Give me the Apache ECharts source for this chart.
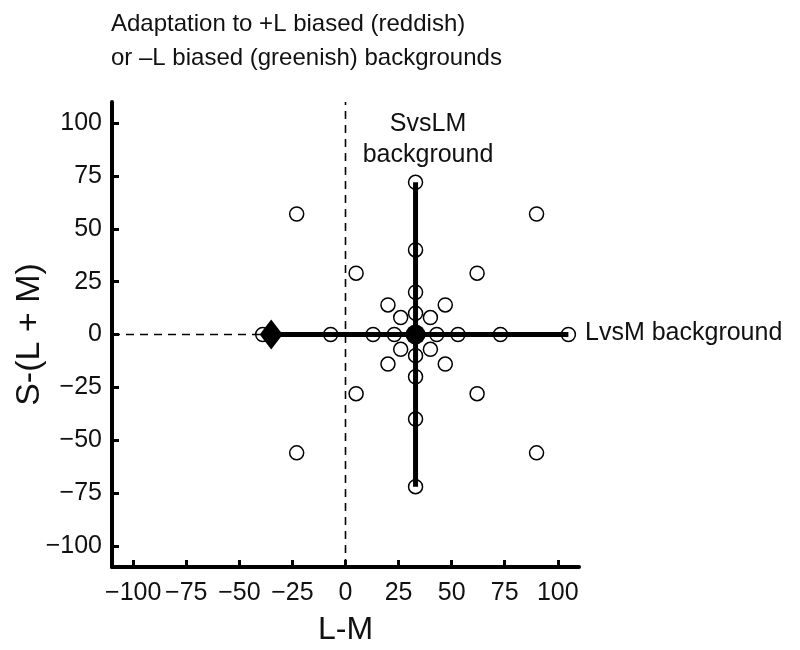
<!DOCTYPE html>
<html>
<head>
<meta charset="utf-8">
<script src="https://cdn.jsdelivr.net/npm/echarts@6/dist/echarts.min.js"></script>
<style>html,body{margin:0;padding:0;background:#fff}#c{width:800px;height:650px}</style>
</head>
<body>
<div id="c"></div>
<script>
// ---- data ----
var xTicks = [-100, -75, -50, -25, 0, 25, 50, 75, 100];
var yTicks = [-100, -75, -50, -25, 0, 25, 50, 75, 100];
var circleX = [33, 33, 33, 33, 33, 33, 33, 33, 33,
               -39, -7, 13, 23, 43, 53, 73, 105,
               26, 40, 26, 40, 20, 47, 20, 47, 5, 62, 5, 62, -23, 90, -23, 90];
var circleY = [0, 10, 20, 40, 72, -10, -20, -40, -72,
               0, 0, 0, 0, 0, 0, 0, 0,
               8, 8, -7, -7, 14, 14, -14, -14, 29, 29, -28, -28, 57, 57, -56, -56];
var svsLMx = [33, 33];
var svsLMy = [-72, 72];
var lvsMx = [-39, 105];
var lvsMy = [0, 0];
var dashVx = [0, 0];
var dashVy = [-110, 110];
var dashHx = [-110, -39];
var dashHy = [0, 0];
var diamondPt = [-35, 0];
var centerPt = [33, 0];

function pairs(xs, ys){ return xs.map(function(x,i){ return [x, ys[i]]; }); }
function fmt(v){ return String(v).replace('-', '\u2212'); }

var FONT = 'Liberation Sans, Arial, Helvetica, sans-serif';
var chart = echarts.init(document.getElementById('c'));
chart.setOption({
  animation: false,
  backgroundColor: '#fff',
  title: {
    text: 'Adaptation to +L biased (reddish)\nor \u2013L biased (greenish) backgrounds',
    left: 106, top: 2,
    textStyle: {fontFamily: FONT, fontSize: 24, fontWeight: 'normal', color: '#111', lineHeight: 34}
  },
  grid: {left: 112, right: 221, top: 102, bottom: 83, containLabel: false, outerBoundsMode: 'none'},
  xAxis: {
    type: 'value', min: -110, max: 110,
    name: 'L-M', nameLocation: 'middle', nameGap: 47, nameMoveOverlap: false,
    nameTextStyle: {fontFamily: FONT, fontSize: 32, color: '#111'},
    axisLine: {onZero: false, lineStyle: {color: '#000', width: 4}},
    axisTick: {inside: true, length: 7, lineStyle: {color: '#000', width: 3}, customValues: xTicks},
    axisLabel: {margin: 14, fontFamily: FONT, fontSize: 25, color: '#111', customValues: xTicks, formatter: fmt},
    splitLine: {show: false}
  },
  yAxis: {
    type: 'value', min: -110, max: 110,
    name: 'S-(L + M)', nameLocation: 'middle', nameGap: 65, nameRotate: 90, nameMoveOverlap: false,
    nameTextStyle: {fontFamily: FONT, fontSize: 34, color: '#111'},
    axisLine: {onZero: false, lineStyle: {color: '#000', width: 4}},
    axisTick: {inside: true, length: 7, lineStyle: {color: '#000', width: 3}, customValues: yTicks},
    axisLabel: {margin: 10, fontFamily: FONT, fontSize: 25, color: '#111', customValues: yTicks, formatter: fmt},
    splitLine: {show: false}
  },
  series: [
    {type: 'line', data: pairs(dashVx, dashVy), symbol: 'none', z: 1,
     lineStyle: {color: '#000', width: 1.6, type: [8, 6]}},
    {type: 'line', data: pairs(dashHx, dashHy), symbol: 'none', z: 1,
     lineStyle: {color: '#000', width: 1.6, type: [8, 6]}},
    {type: 'line', data: pairs(svsLMx, svsLMy), symbol: 'none', z: 2,
     lineStyle: {color: '#000', width: 5}},
    {type: 'line', data: pairs(lvsMx, lvsMy), symbol: 'none', z: 2,
     lineStyle: {color: '#000', width: 5}},
    {type: 'scatter', data: pairs(circleX, circleY), symbol: 'circle', symbolSize: 14, z: 3,
     itemStyle: {color: 'rgba(255,255,255,0)', borderColor: '#000', borderWidth: 1.5, opacity: 1}},
    {type: 'scatter', data: [diamondPt], symbol: 'diamond', symbolSize: [23, 30], z: 4,
     itemStyle: {color: '#000', opacity: 1}},
    {type: 'scatter', data: [centerPt], symbol: 'circle', symbolSize: 20, z: 4,
     itemStyle: {color: '#000', opacity: 1}}
  ],
  graphic: [
    {type: 'text', left: 585, top: 321,
     style: {text: 'LvsM background', font: '25px ' + FONT, fill: '#111'}},
    {type: 'text', x: 428, y: 109,
     style: {text: 'SvsLM\nbackground', font: '25px ' + FONT, fill: '#111', align: 'center', lineHeight: 31}}
  ]
});
</script>
</body>
</html>
